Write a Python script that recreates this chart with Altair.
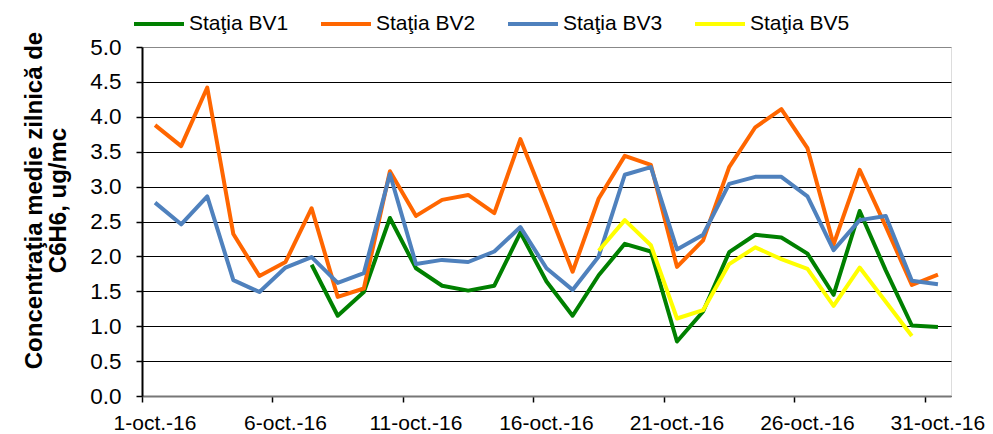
import altair as alt
import pandas as pd

days = list(range(1, 32))
series_names = ["Staţia BV1", "Staţia BV2", "Staţia BV3", "Staţia BV5"]
series_colors = ["#008000", "#FF6600", "#4F81BD", "#FFFF00"]

bv1 = [None] * 6 + [1.88, 1.15, 1.49, 2.55, 1.83, 1.58, 1.51, 1.58, 2.34, 1.64,
                    1.15, 1.73, 2.18, 2.07, 0.78, 1.21, 2.06, 2.31, 2.27, 2.04,
                    1.45, 2.65, 1.80, 1.01, 0.99]
bv2 = [3.88, 3.58, 4.42, 2.32, 1.72, 1.92, 2.69, 1.42, 1.54, 3.22, 2.58, 2.81,
       2.88, 2.62, 3.68, 2.74, 1.78, 2.83, 3.44, 3.31, 1.85, 2.23, 3.28, 3.85,
       4.11, 3.55, 2.17, 3.24, 2.43, 1.59, 1.74]
bv3 = [2.77, 2.46, 2.86, 1.66, 1.49, 1.84, 1.99, 1.62, 1.76, 3.18, 1.89, 1.95,
       1.92, 2.07, 2.42, 1.83, 1.52, 2.00, 3.17, 3.28, 2.10, 2.31, 3.04, 3.14,
       3.14, 2.86, 2.09, 2.52, 2.58, 1.65, 1.60]
bv5 = [None] * 17 + [2.08, 2.52, 2.16, 1.11, 1.23, 1.89, 2.13, 1.96, 1.82, 1.29,
                     1.84, 1.35, 0.86, None]

y_ticks = [0, 0.5, 1, 1.5, 2, 2.5, 3, 3.5, 4, 4.5, 5]
x_tick_days = [1, 6, 11, 16, 21, 26, 31]
y_title = ["Concentraţia medie zilnică de", "C6H6, ug/mc"]

rows = []
for name, vals in zip(series_names, [bv1, bv2, bv3, bv5]):
    for d, v in zip(days, vals):
        if v is not None:
            rows.append({"day": d, "value": v, "series": name})
df = pd.DataFrame(rows)

FONT = "Liberation Sans"

chart = alt.Chart(df).mark_line(strokeWidth=4, strokeJoin="round").encode(
    x=alt.X(
        "day:Q",
        scale=alt.Scale(domain=[0.5, 31.5], nice=False, zero=False),
        axis=alt.Axis(
            values=[d - 0.5 for d in x_tick_days],
            labelExpr='(datum.value + 0.5) + "-oct.-16"',
            labelOffset=12.5,
            labelFlush=False,
            labelOverlap=False,
            grid=False,
            domainColor="#777777",
            domainWidth=2,
            tickColor="black",
            tickWidth=1.5,
            tickSize=6,
            labelPadding=10,
            labelFont=FONT,
            labelFontSize=21,
            labelColor="black",
            title=None,
        ),
    ),
    y=alt.Y(
        "value:Q",
        scale=alt.Scale(domain=[0, 5], nice=False),
        axis=alt.Axis(
            values=y_ticks,
            format=".1f",
            grid=True,
            gridColor={"condition": {"test": "datum.value >= 5", "value": "#888888"}, "value": "black"},
            gridWidth=1,
            domainColor="black",
            domainWidth=2,
            tickColor="black",
            tickWidth=1.5,
            tickSize=6,
            labelPadding=15,
            labelFont=FONT,
            labelFontSize=22.5,
            labelColor="black",
            title=y_title,
            titleFont=FONT,
            titleFontSize=24,
            titleFontWeight="bold",
            titleColor="black",
            titleAngle=270,
            titleX=-108,
            titleY=153,
            titleAlign="center",
            titleBaseline="middle",
            titleLineHeight=24,
        ),
    ),
    color=alt.Color(
        "series:N",
        scale=alt.Scale(domain=series_names, range=series_colors),
        sort=series_names,
        legend=alt.Legend(
            title=None,
            orient="none",
            legendX=-10,
            legendY=-50,
            direction="horizontal",
            columns=4,
            symbolType="stroke",
            symbolSize=2500,
            symbolStrokeWidth=4,
            labelFont=FONT,
            labelFontSize=21,
            labelColor="black",
            labelOffset=3,
            columnPadding=24,
        ),
    ),
).properties(
    width=809,
    height=349,
    autosize=alt.AutoSizeParams(type="none"),
    padding={"left": 134, "top": 39, "right": 34, "bottom": 38},
).configure_view(
    stroke="#888888",
    strokeWidth=2,
).configure(background="white")

chart.save("out.html", embed_options={"renderer": "svg", "actions": False})
